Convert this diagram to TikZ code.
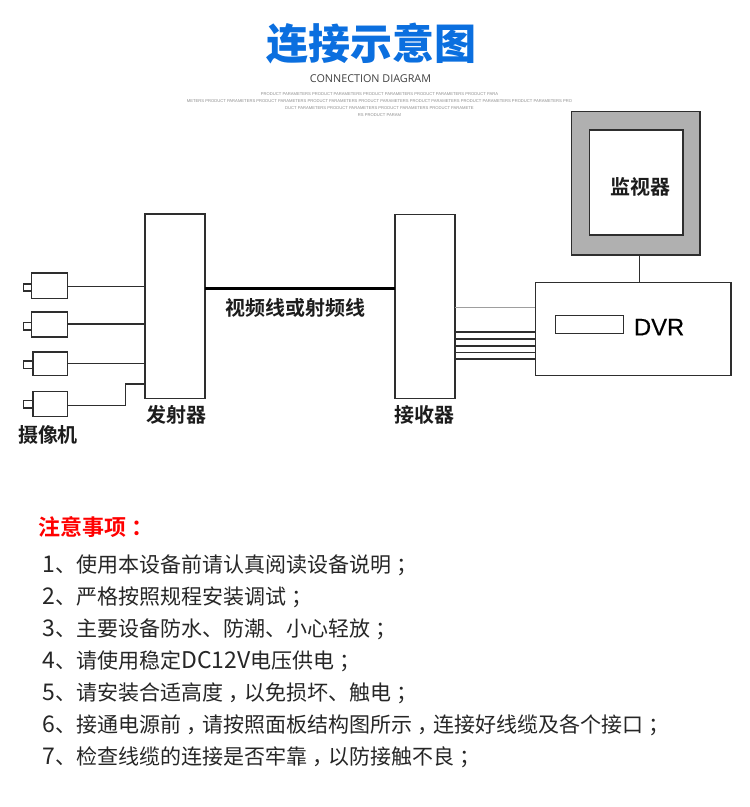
\documentclass[tikz,border=0pt]{standalone}
\usepackage{fontspec}
\setmainfont{Liberation Sans}
\newfontfamily\cjk{Noto Sans CJK SC}
\newfontfamily\cjkbold{Noto Sans CJK SC Bold}
\newfontfamily\cjkblack{Noto Sans CJK SC Black}
\newfontfamily\latl{Open Sans}
\newfontfamily\dvrfont[FakeBold=0.4]{Liberation Sans}
\definecolor{ink}{HTML}{2E2E2E}
\definecolor{bodyink}{HTML}{262626}
\definecolor{labink}{HTML}{1C1C1C}
\definecolor{titleblue}{HTML}{0B6FDF}
\definecolor{wall}{HTML}{B0B0B0}
\newcommand{\lat}[1]{{\fontsize{23}{24}\selectfont #1}}
\newcommand{\pu}[1]{\kern.25em\rlap{#1}\kern.75em}
\tikzset{
  txt/.style={inner sep=0pt,outer sep=0pt},
  boxn/.style={draw=ink,line width=1.4pt,fill=white,inner sep=0pt,outer sep=0pt,rectangle},
  wire/.style={draw=ink,line width=1.4pt},
  notel/.style={txt,anchor=base west,text=bodyink,font=\cjk\fontsize{21}{24}\selectfont},
  lab/.style={txt,text=labink,font=\cjkbold\fontsize{20}{24}\selectfont},
  tiny/.style={txt,text=black!45,font=\fontsize{4.15}{5}\selectfont}
}
\newcommand{\bx}[6]{\node[boxn,minimum width=#4pt-#2pt,minimum height=#5pt-#3pt,#6] (#1) at ({(#2+#4)/2},{(#3+#5)/2}) {};}
\begin{document}
\begin{tikzpicture}[x=1pt,y=-1pt]
\useasboundingbox (0,0) rectangle (750,807);
% header
\node[txt,text=titleblue,font=\cjkblack\fontsize{42}{46}\selectfont] (title) at (371,44) {连接示意图};
\node[txt,text=black!75,font=\latl\fontsize{10.8}{12}\selectfont] (sub) at (370.5,78.8) {CONNECTION DIAGRAM};
\node[tiny] (p1) at (379.5,94) {PRODUCT PARAMETERS PRODUCT PARAMETERS PRODUCT PARAMETERS PRODUCT PARAMETERS PRODUCT PARA};
\node[tiny] (p2) at (379.5,101) {METERS PRODUCT PARAMETERS PRODUCT PARAMETERS PRODUCT PARAMETERS PRODUCT PARAMETERS PRODUCT PARAMETERS PRODUCT PARAMETERS PRODUCT PARAMETERS PRO};
\node[tiny] (p3) at (379.5,108) {DUCT PARAMETERS PRODUCT PARAMETERS PRODUCT PARAMETERS PRODUCT PARAMETE};
\node[tiny] (p4) at (379.5,115) {RS PRODUCT PARAM};
% main boxes
\bx{tx}{145}{214}{205}{398.7}{}
\bx{rx}{395}{214.3}{455}{398.7}{}
\bx{dvr}{535.3}{282.7}{731}{375.3}{}
\bx{slot}{555.3}{315.7}{623.3}{333.3}{}
\node[boxn,fill=wall,minimum width=128.3pt,minimum height=143.3pt] (mon) at (635.85,183.35) {};
\bx{scr}{589.3}{130}{683}{235}{}
% cameras
\bx{cam1}{31.7}{273}{67.3}{298.7}{}
\bx{cam2}{31.7}{312}{67.3}{337}{}
\bx{cam3}{33}{352}{67.3}{375.7}{}
\bx{cam4}{33}{391.7}{67.3}{416.7}{}
\bx{nub1}{23.7}{284}{31.7}{291}{}
\bx{nub2}{23.7}{322.7}{31.7}{330}{}
\bx{nub3}{23.7}{361}{33}{368.3}{}
\bx{nub4}{23.7}{400.7}{33}{408}{}
% connectors
\draw[wire] (cam1.east |- 0,286.5) -- (tx.west |- 0,286.5);
\draw[wire] (cam2.east |- 0,324) -- (tx.west |- 0,324);
\draw[wire] (cam3.east |- 0,363.5) -- (tx.west |- 0,363.5);
\coordinate (bendA) at (125.7,405.5);
\coordinate (bendB) at (125.7,384);
\draw[wire] (cam4.east |- bendA) -- (bendA) -- (bendB) -- (tx.west |- bendB);
\draw[draw=black,line width=3pt] (tx.east |- 0,288.7) -- (rx.west |- 0,288.7);
\draw[draw=black!38,line width=1.6pt] (rx.east |- 0,307.5) -- (dvr.west |- 0,307.5);
\foreach \yy in {332,339,346,352.3,359}{
  \draw[wire] (rx.east |- 0,\yy) -- (dvr.west |- 0,\yy);
}
\draw[wire] (mon.south -| 639.3,0) -- (dvr.north -| 639.3,0);
% labels
\node[lab] (lcable) at (295.5,308) {视频线或射频线};
\node[lab] (ltx) at (176.5,415) {发射器};
\node[lab] (lcam) at (48,435) {摄像机};
\node[lab] (lrx) at (424.5,415) {接收器};
\node[lab] (lmon) at (640,187) {监视器};
\node[txt,anchor=base west,text=black,font=\dvrfont\fontsize{23.8}{28}\selectfont] (ldvr) at (634,335.3) {DVR};
% notes
\node[txt,anchor=base west,text=red,font=\cjkbold\fontsize{22}{24}\selectfont] (nhead) at (38.5,535.5) {注意事项\pu{：}};
\node[notel] (n1) at (42.5,572.2) {\lat{1}、使用本设备前请认真阅读设备说明\pu{；}};
\node[notel] (n2) at (42.5,604.2) {\lat{2}、严格按照规程安装调试\pu{；}};
\node[notel] (n3) at (42.5,636.2) {\lat{3}、主要设备防水、防潮、小心轻放\pu{；}};
\node[notel] (n4) at (42.5,668.2) {\lat{4}、请使用稳定\lat{DC12V}电压供电\pu{；}};
\node[notel] (n5) at (42.5,700.2) {\lat{5}、请安装合适高度\pu{，}以免损坏、触电\pu{；}};
\node[notel] (n6) at (42.5,732.2) {\lat{6}、接通电源前\pu{，}请按照面板结构图所示\pu{，}连接好线缆及各个接口\pu{；}};
\node[notel] (n7) at (42.5,764.2) {\lat{7}、检查线缆的连接是否牢靠\pu{，}以防接触不良\pu{；}};
\end{tikzpicture}
\end{document}
